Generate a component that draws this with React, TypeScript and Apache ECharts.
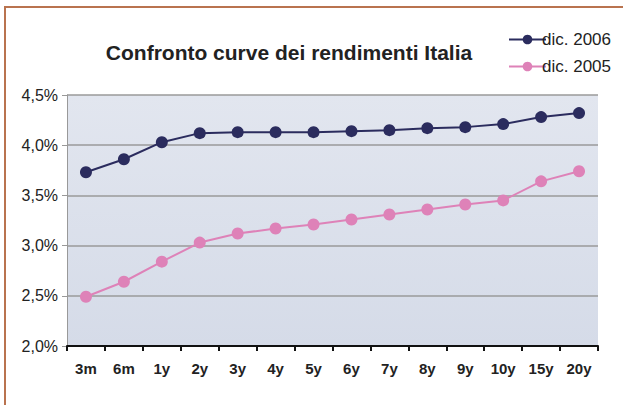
import React, { useEffect, useRef } from "react";
import * as echarts from "echarts";

const categories = ["3m", "6m", "1y", "2y", "3y", "4y", "5y", "6y", "7y", "8y", "9y", "10y", "15y", "20y"];
const dic2006 = [3.73, 3.86, 4.03, 4.12, 4.13, 4.13, 4.13, 4.14, 4.15, 4.17, 4.18, 4.21, 4.28, 4.32];
const dic2005 = [2.49, 2.64, 2.84, 3.03, 3.12, 3.17, 3.21, 3.26, 3.31, 3.36, 3.41, 3.45, 3.64, 3.74];
const titleText = "Confronto curve dei rendimenti Italia";
const FONT = "'Liberation Sans', Arial, Helvetica, sans-serif";

export default function App() {
  const ref = useRef<HTMLDivElement>(null);
  useEffect(() => {
    if (!ref.current) return;
    const chart = echarts.init(ref.current, null, { renderer: "svg" });
    chart.setOption({
      animation: false,
      backgroundColor: "#ffffff",
      title: {
        text: titleText,
        left: 284,
        textAlign: "center",
        top: 37,
        textStyle: { fontFamily: FONT, fontSize: 21, fontWeight: "bold", color: "#222" },
      },
      legend: {
        orient: "vertical",
        left: 503,
        top: 26,
        itemWidth: 37,
        itemHeight: 12,
        itemGap: 10,
        textStyle: { fontFamily: FONT, fontSize: 17, color: "#222", padding: [0, 0, 0, -9] },
        data: ["dic. 2006", "dic. 2005"],
      },
      graphic: [
        {
          type: "rect",
          shape: { x: 5, y: 7, width: 700, height: 500 },
          style: { fill: "none", stroke: "#b9734f", lineWidth: 2 },
          silent: true,
          z: 100,
        },
      ],
      grid: {
        left: 67,
        right: 25,
        top: 95,
        bottom: 59,
        show: true,
        borderWidth: 0,
        backgroundColor: new echarts.graphic.LinearGradient(0, 0, 0, 1, [
          { offset: 0, color: "#e2e6ef" },
          { offset: 1, color: "#d5dbe8" },
        ]),
      },
      xAxis: {
        type: "category",
        data: categories,
        boundaryGap: true,
        axisLine: { show: true, lineStyle: { color: "#111", width: 2 } },
        axisTick: { show: true, length: 5, lineStyle: { color: "#111", width: 2 } },
        axisLabel: { fontFamily: FONT, fontSize: 15, fontWeight: "bold", color: "#222", margin: 15 },
        splitLine: { show: false },
      },
      yAxis: {
        type: "value",
        min: 2,
        max: 4.5,
        interval: 0.5,
        axisLine: { show: true, lineStyle: { color: "#999", width: 1 } },
        axisTick: { show: true, length: 5, lineStyle: { color: "#999" } },
        axisLabel: {
          fontFamily: FONT,
          fontSize: 16,
          color: "#222",
          margin: 9,
          formatter: (v: number) => v.toFixed(1).replace(".", ",") + "%",
        },
        splitLine: { show: true, lineStyle: { color: "#9a9a9a", width: 1.5 } },
      },
      series: [
        {
          name: "dic. 2006",
          type: "line",
          data: dic2006,
          symbol: "circle",
          symbolSize: 12,
          color: "#2b2c5e",
          lineStyle: { width: 2, color: "#2b2c5e" },
          itemStyle: { color: "#2b2c5e" },
        },
        {
          name: "dic. 2005",
          type: "line",
          data: dic2005,
          symbol: "circle",
          symbolSize: 12,
          color: "#de82b8",
          lineStyle: { width: 2, color: "#de82b8" },
          itemStyle: { color: "#de82b8" },
        },
      ],
    });
    return () => chart.dispose();
  }, []);
  return (
    <div
      ref={ref}
      style={{ position: "absolute", left: 0, top: 0, width: 623, height: 405 }}
    />
  );
}
